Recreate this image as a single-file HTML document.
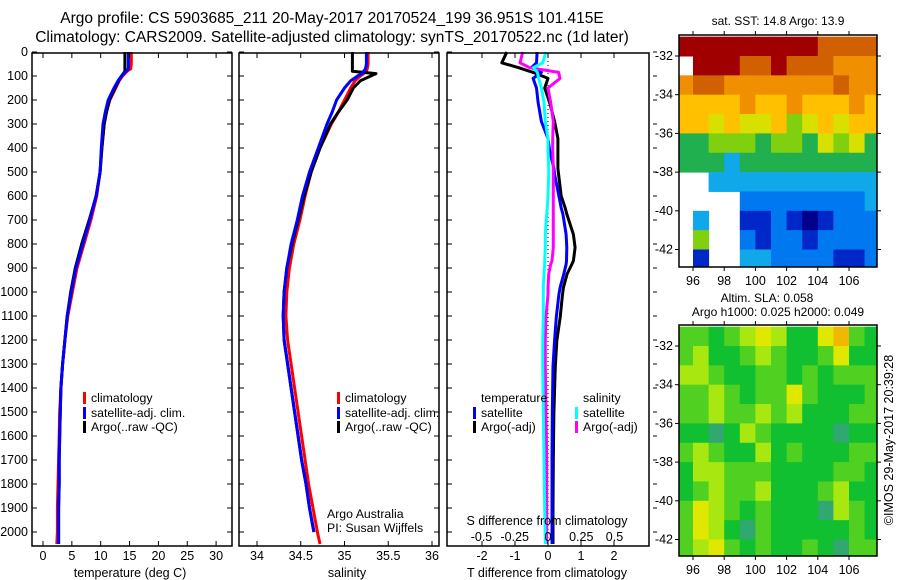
<!DOCTYPE html>
<html><head><meta charset="utf-8">
<style>
html,body{margin:0;padding:0;background:#fff;}
svg{display:block;font-family:"Liberation Sans",sans-serif;}
text{fill:#000;}
</style></head>
<body>
<svg id="fig" width="900" height="580" viewBox="0 0 900 580" xmlns="http://www.w3.org/2000/svg">
<text x="332" y="23" font-size="15.5" text-anchor="middle">Argo profile: CS 5903685_211 20-May-2017 20170524_199 36.951S 101.415E</text>
<text x="332" y="42" font-size="15.5" text-anchor="middle">Climatology: CARS2009. Satellite-adjusted climatology: synTS_20170522.nc (1d later)</text>
<g id="p1"></g>
<g id="p2"></g>
<g id="p3"></g>
<g id="m1"></g>
<g id="m2"></g>
<text x="778" y="25" font-size="12" text-anchor="middle">sat. SST: 14.8 Argo: 13.9</text>
<text x="767" y="302" font-size="12" text-anchor="middle">Altim. SLA: 0.058</text>
<text x="778" y="316" font-size="12" text-anchor="middle">Argo h1000: 0.025 h2000: 0.049</text>
<text transform="translate(893,440) rotate(-90)" font-size="12.5" text-anchor="middle">©IMOS 29-May-2017 20:39:28</text>
</svg>
<script>
// ---- data ----
const depths = [0,50,70,80,90,100,120,150,200,250,300,400,500,600,700,800,900,1000,1100,1200,1300,1400,1500,1600,1700,1800,1900,2000,2050];
const tempClim = [15.3,15.3,15.2,14.6,14.2,13.8,13.2,12.6,11.6,11.0,10.6,10.2,9.9,9.3,8.3,7.1,5.9,5.1,4.3,3.8,3.4,3.1,2.9,2.8,2.7,2.6,2.5,2.5,2.4];
const tempSat = [14.8,14.8,14.8,14.4,14.0,13.6,13.0,12.3,11.3,10.8,10.4,10.1,9.9,9.2,8.1,6.9,5.7,4.9,4.2,3.8,3.4,3.1,3.0,2.9,2.8,2.8,2.7,2.7,2.7];
const tempArgo = [14.2,14.2,14.2,14.2,13.9,13.6,13.1,12.5,11.5,11.0,10.6,10.2,9.9,9.2,8.0,6.7,5.6,4.8,4.2,3.8,3.4,3.1,3.0,2.9,2.8,2.8,2.7,2.7,2.7];
const salClim = [35.27,35.27,35.26,35.25,35.22,35.18,35.12,35.07,35.0,34.93,34.85,34.72,34.62,34.55,34.49,34.42,34.37,34.34,34.33,34.35,34.39,34.43,34.47,34.51,34.55,34.59,34.64,34.69,34.72];
const salSat = [35.25,35.25,35.24,35.22,35.2,35.15,35.07,35.0,34.91,34.86,34.8,34.7,34.6,34.52,34.46,34.39,34.34,34.31,34.3,34.31,34.35,34.39,34.43,34.47,34.51,34.56,34.6,34.65,34.65];
const salArgo = [35.09,35.09,35.09,35.09,35.36,35.3,35.18,35.1,35.03,34.93,34.84,34.72,34.62,34.54,34.47,34.4,34.34,34.31,34.3,34.31,34.35,34.39,34.43,34.47,34.51,34.56,34.6,34.65,34.65];
const diffDepths = [0,45,65,85,110,150,210,290,360,410,485,510,600,650,675,760,815,870,885,925,980,1010,1105,1200,1310,1500,1700,1900,2050];
const dTsat = [-0.33,-0.35,-0.5,-0.2,-0.45,-0.35,-0.3,-0.2,0.0,0.05,0.18,0.2,0.33,0.4,0.45,0.55,0.57,0.56,0.55,0.48,0.37,0.33,0.25,0.2,0.15,0.13,0.12,0.12,0.12];
const dTargo = [-1.25,-1.4,-0.9,-0.45,0.0,-0.1,0.05,0.2,0.3,0.3,0.3,0.32,0.4,0.52,0.57,0.77,0.82,0.77,0.72,0.58,0.47,0.44,0.37,0.27,0.22,0.18,0.16,0.15,0.15];
const dSsat = [-0.015,-0.04,-0.11,-0.08,-0.07,-0.05,-0.03,-0.02,0.0,0.0,0.005,0.005,0.0,-0.005,-0.01,-0.02,-0.02,-0.025,-0.025,-0.03,-0.035,-0.035,-0.035,-0.04,-0.04,-0.035,-0.03,-0.025,-0.02];
const dSargo = [-0.19,-0.21,-0.14,0.08,0.09,0.0,0.02,0.04,0.035,0.035,0.04,0.04,0.04,0.04,0.04,0.04,0.04,0.03,0.02,0.005,0.0,0.0,-0.015,-0.02,-0.02,-0.015,-0.01,-0.01,-0.01];
const depthTicks = [0,100,200,300,400,500,600,700,800,900,1000,1100,1200,1300,1400,1500,1600,1700,1800,1900,2000];
const tempTicks = [0,5,10,15,20,25,30];
const salTicks = [34,34.5,35,35.5,36];
const tdTicks = [-2,-1,0,1,2];
const sdTicks = [-0.5,-0.25,0,0.25,0.5];
const sdTickLabels = ["-0.5","-0.25","0","0.25","0.5"];
const lonTicks = [96,98,100,102,104,106];
const latTicks = [-32,-34,-36,-38,-40,-42];
const gridLons = [95,96,97,98,99,100,101,102,103,104,105,106,107];
const gridLats = [-31,-32,-33,-34,-35,-36,-37,-38,-39,-40,-41,-42];
const sstRows = [
[10,10,10,10,10,10,10,10,10,9,9,9,9],
[-1,10,10,10,9,9,10,9,9,9,8,8,8],
[8,9,9,8,8,8,8,8,8,8,9,8,8],
[7,7,7,7,8,7,7,8,7,7,7,8,7],
[7,7,6,7,6,6,7,5,6,7,6,7,7],
[4,4,5,5,5,4,5,5,4,6,5,6,4],
[4,4,4,3,4,4,4,4,4,4,4,4,4],
[-1,-1,3,3,3,3,3,3,3,3,3,3,3],
[-1,-1,-1,-1,2,2,2,2,2,2,2,2,3],
[-1,3,-1,-1,1,1,2,1,0,1,2,2,2],
[-1,5,-1,-1,2,1,2,2,1,2,2,2,2],
[-1,1,-1,-1,3,3,2,2,2,2,1,1,2]];
const slaRows = [
[2,2,1,2,3,4,3,1,1,4,5,2,1],
[2,3,1,1,2,3,2,1,1,2,4,1,1],
[3,3,2,1,1,2,2,1,2,1,2,2,2],
[2,2,3,2,1,2,2,4,2,1,1,1,2],
[2,2,3,2,2,3,2,3,1,1,1,2,2],
[1,1,0,1,3,2,1,1,1,1,0,1,1],
[2,3,2,1,1,3,1,2,1,1,1,2,2],
[1,3,3,2,2,2,1,1,1,1,2,2,1],
[1,2,3,2,2,3,1,1,1,2,3,1,1],
[2,4,3,2,1,2,1,1,1,0,3,2,1],
[2,4,3,1,0,2,1,1,1,1,1,2,1],
[2,3,4,2,1,2,1,1,2,1,0,2,2]];
const sstPalette = ["#00008b","#0028c8","#0078f0","#10a8e8","#20b050","#80d010","#d8e000","#ffc000","#f09000","#d06000","#a00000"];
const slaPalette = ["#30a870","#10c030","#50d020","#a8e810","#e0e800","#f0b800"];

const NS = "http://www.w3.org/2000/svg";
function mk(tag, attrs, parent, txt){
  const e = document.createElementNS(NS, tag);
  for (const k in attrs) e.setAttribute(k, attrs[k]);
  if (txt !== undefined) e.textContent = txt;
  parent.appendChild(e); return e;
}
const TOP = 53, BOT = 546;
const yD = d => 52 + d * 0.24;

function frame(g, x0, x1){
  const r = mk('rect', {x:x0, y:TOP, width:x1-x0, height:BOT-TOP, fill:'none', stroke:'#000', 'stroke-width':1.5}, g);
  
  
}
function depthTickMarks(g, x0, x1, labels){
  depthTicks.forEach(d => {
    const y = yD(d);
    mk('line', {x1:x0, x2:x0+5, y1:y, y2:y, stroke:'#000'}, g);
    mk('line', {x1:x1, x2:x1-5, y1:y, y2:y, stroke:'#000'}, g);
    if (labels) {
      const t = mk('text', {x:x0-4, y:y+4, 'font-size':12.5, 'text-anchor':'end'}, g, String(d));
      
      
    }
  });
}
function xTicks(g, ticks, fx, labels, yLab){
  ticks.forEach((v,i) => {
    const x = fx(v);
    mk('line', {x1:x, x2:x, y1:BOT, y2:BOT-5, stroke:'#000'}, g);
    mk('line', {x1:x, x2:x, y1:TOP, y2:TOP+5, stroke:'#000'}, g);
    const t = mk('text', {x:x, y:yLab, 'font-size':12.5, 'text-anchor':'middle'}, g, labels ? labels[i] : String(v));
    
    
  });
}
function line(g, xs, ds, fx, color, name, w){
  const pts = xs.map((v,i) => fx(v).toFixed(1) + ',' + yD(ds[i]).toFixed(1)).join(' ');
  const p = mk('polyline', {points:pts, fill:'none', stroke:color, 'stroke-width':w||3, 'stroke-linejoin':'round'}, g);
  
  
}
function legend(g, x, y, color, label){
  mk('rect', {x:x, y:y-6, width:3, height:12, fill:color}, g);
  const t = mk('text', {x:x+8, y:y+4, 'font-size':12.3}, g, label);
  
  
}

// Panel 1 temperature
const g1 = document.getElementById('p1');
const fT = v => 43 + v * 5.77;
line(g1, tempClim, depths, fT, '#ff0000', 'temp-climatology-line');
line(g1, tempArgo, depths, fT, '#000000', 'temp-argo-line');
line(g1, tempSat, depths, fT, '#0000ff', 'temp-satellite-line');
frame(g1, 32, 232);
depthTickMarks(g1, 32, 232, true);
xTicks(g1, tempTicks, fT, null, 560);
mk('text', {x:130, y:577, 'font-size':12.5, 'text-anchor':'middle',  }, g1, 'temperature (deg C)');
legend(g1, 83, 398, '#ff0000', 'climatology');
legend(g1, 83, 413, '#0000ff', 'satellite-adj. clim.');
legend(g1, 83, 427, '#000000', 'Argo(..raw -QC)');

// Panel 2 salinity
const g2 = document.getElementById('p2');
const fS = v => 257 + (v - 34) * 87.5;
line(g2, salClim, depths, fS, '#ff0000', 'sal-climatology-line');
line(g2, salArgo.slice(0,28), depths.slice(0,28), fS, '#000000', 'sal-argo-line');
line(g2, salSat.slice(0,28), depths.slice(0,28), fS, '#0000ff', 'sal-satellite-line');
frame(g2, 239, 439);
depthTickMarks(g2, 239, 439, false);
xTicks(g2, salTicks, fS, null, 560);
mk('text', {x:347, y:577, 'font-size':12.5, 'text-anchor':'middle',  }, g2, 'salinity');
legend(g2, 337, 398, '#ff0000', 'climatology');
legend(g2, 337, 413, '#0000ff', 'satellite-adj. clim.');
legend(g2, 337, 427, '#000000', 'Argo(..raw -QC)');
mk('text', {x:327, y:518, 'font-size':12.3,  }, g2, 'Argo Australia');
mk('text', {x:327, y:532, 'font-size':12.3,  }, g2, 'PI: Susan Wijffels');

// Panel 3 differences
const g3 = document.getElementById('p3');
const fTd = v => 548 + v * 33;
const fSd = v => 548 + v * 133;
mk('line', {x1:548, x2:548, y1:TOP, y2:BOT, stroke:'#000', 'stroke-dasharray':'1,3',  }, g3);
line(g3, dTargo, diffDepths, fTd, '#000000', 'tdiff-argo-line');
line(g3, dTsat, diffDepths, fTd, '#0000ff', 'tdiff-satellite-line');
line(g3, dSargo, diffDepths, fSd, '#ff00ff', 'sdiff-argo-line');
line(g3, dSsat, diffDepths, fSd, '#00ffff', 'sdiff-satellite-line');
frame(g3, 447, 649);
depthTicks.forEach(d => { mk('line', {x1:447, x2:452, y1:yD(d), y2:yD(d), stroke:'#000'}, g3); mk('line', {x1:653, x2:657, y1:yD(d), y2:yD(d), stroke:'#000'}, g3); });
tdTicks.forEach(v => {
  const x = fTd(v);
  mk('line', {x1:x, x2:x, y1:BOT, y2:BOT-5, stroke:'#000'}, g3);
  mk('line', {x1:x, x2:x, y1:TOP, y2:TOP+5, stroke:'#000'}, g3);
  const t = mk('text', {x:x, y:560, 'font-size':12.5, 'text-anchor':'middle'}, g3, String(v));
  
  
});
sdTicks.forEach((v,i) => {
  const t = mk('text', {x:fSd(v), y:541, 'font-size':12.5, 'text-anchor':'middle'}, g3, sdTickLabels[i]);
  
  
});
mk('text', {x:547, y:525, 'font-size':12.5, 'text-anchor':'middle',  }, g3, 'S difference from climatology');
mk('text', {x:547, y:577, 'font-size':12.5, 'text-anchor':'middle',  }, g3, 'T difference from climatology');
mk('text', {x:481, y:402, 'font-size':12.3,  }, g3, 'temperature');
mk('text', {x:583, y:402, 'font-size':12.3,  }, g3, 'salinity');
legend(g3, 473, 413, '#0000ff', 'satellite');
legend(g3, 473, 427, '#000000', 'Argo(-adj)');
legend(g3, 575, 413, '#00ffff', 'satellite');
legend(g3, 575, 427, '#ff00ff', 'Argo(-adj)');

// Maps
function mapPanel(id, top, bot, rows, palette, name){
  const g = document.getElementById(id);
  const L = 679, R = 877;
  const fx = lon => 693 + (lon - 96) * 15.6;
  const lat32 = top + 21;
  const fy = lat => lat32 + (-32 - lat) * 19.35;
  const cp = mk('clipPath', {id:'clip-'+id}, g);
  mk('rect', {x:L, y:top, width:R-L, height:bot-top}, cp);
  const cells = mk('g', {'clip-path':'url(#clip-'+id+')'}, g);
  rows.forEach((row, r) => row.forEach((v, c) => {
    if (v < 0) return;
    const x0 = fx(gridLons[c]), x1 = fx(gridLons[c] + 1);
    const y0 = fy(gridLats[r]), y1 = fy(gridLats[r] - 1);
    const rect = mk('rect', {x:x0, y:y0, width:x1-x0+0.5, height:y1-y0+0.5, fill:palette[v]}, cells);
    
    
  }));
  const fr = mk('rect', {x:L, y:top, width:R-L, height:bot-top, fill:'none', stroke:'#000', 'stroke-width':1.5}, g);
  
  
  lonTicks.forEach(lon => {
    const x = fx(lon);
    mk('line', {x1:x, x2:x, y1:bot, y2:bot+4, stroke:'#000'}, g);
    mk('line', {x1:x, x2:x, y1:top, y2:top-4, stroke:'#000'}, g);
    const t = mk('text', {x:x, y:bot+18, 'font-size':12.5, 'text-anchor':'middle'}, g, String(lon));
    
    
  });
  latTicks.forEach(lat => {
    const y = fy(lat);
    mk('line', {x1:L, x2:L-4, y1:y, y2:y, stroke:'#000'}, g);
    mk('line', {x1:R, x2:R+4, y1:y, y2:y, stroke:'#000'}, g);
    const t = mk('text', {x:L-6, y:y+4, 'font-size':12.5, 'text-anchor':'end'}, g, String(lat));
    
    
  });
}
mapPanel('m1', 35, 267, sstRows, sstPalette, 'sst-map');
mapPanel('m2', 325, 556, slaRows, slaPalette, 'sla-map');
</script>
</body></html>
